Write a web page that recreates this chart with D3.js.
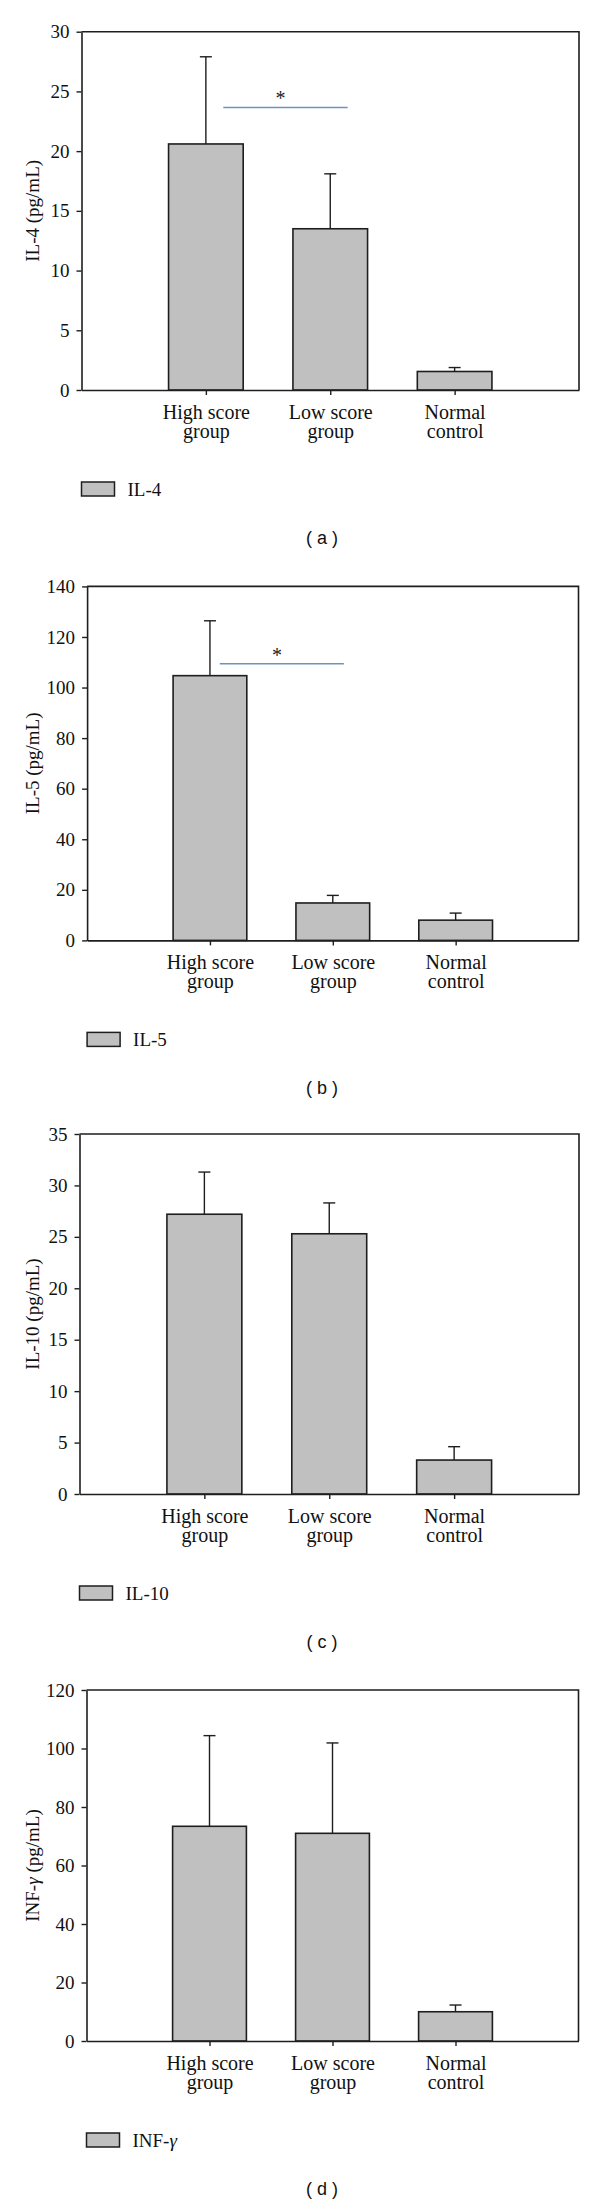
<!DOCTYPE html>
<html>
<head>
<meta charset="utf-8">
<script src="https://cdn.jsdelivr.net/npm/d3@7"></script>
<style>
  body { margin: 0; background: #fff; }
  svg { display: block; }
</style>
</head>
<body>
<script>
// categories (two-line labels) shared by all four panels
const categories = [["High score", "group"], ["Low score", "group"], ["Normal", "control"]];

// means and upper error (SD)
const il4Means = [20.6, 13.5, 1.55];
const il4Errors = [7.3, 4.6, 0.33];
const il5Means = [104.7, 14.8, 8.0];
const il5Errors = [21.7, 3.0, 2.8];
const il10Means = [27.2, 25.3, 3.3];
const il10Errors = [4.1, 3.0, 1.3];
const infMeans = [73.4, 71.0, 10.0];
const infErrors = [31.0, 30.9, 2.3];

// y axis ranges and tick steps
const yMaxes = [30, 140, 35, 120];
const yTickSteps = [5, 20, 5, 20];

// significance bars: [from category pos, to category pos, y value] (null = none)
const sigBars = [[1.14, 2.14, 23.66], [1.08, 2.09, 109.4], null, null];

const labels = ["IL-4", "IL-5", "IL-10", "INF-γ"];
const captions = ["a", "b", "c", "d"];

const W = 600, H = 2203;
const svg = d3.select("body").append("svg").attr("width", W).attr("height", H);

// frame of each panel on the page
const frames = [
  { left: 81.5, top: 31.7, right: 579, bottom: 390 },
  { left: 87.1, top: 586.4, right: 578.5, bottom: 940.4 },
  { left: 79.5, top: 1134, right: 579, bottom: 1494 },
  { left: 86.5, top: 1690, right: 578.5, bottom: 2041 }
];

const allMeans = [il4Means, il5Means, il10Means, infMeans];
const allErrors = [il4Errors, il5Errors, il10Errors, infErrors];

const serif = "'Liberation Serif', 'Times New Roman', serif";
const ink = "#1e1e1e";

// writes "INF-γ" with an italic gamma
function writeLabel(sel, txt) {
  const parts = txt.split("γ");
  sel.append("tspan").text(parts[0]);
  if (parts.length > 1) {
    sel.append("tspan").attr("font-style", "italic").text("γ");
    sel.append("tspan").text(parts[1]);
  }
}

frames.forEach((f, i) => {
  const g = svg.append("g");
  const means = allMeans[i], errs = allErrors[i];

  let x = d3.scaleLinear().domain([0, 4]).range([f.left, f.right]);
  let y = d3.scaleLinear().domain([0, yMaxes[i]]).range([f.bottom, f.top]);
  const step = x(1) - x(0);

  // frame (top + right)
  g.append("path")
    .attr("d", `M${f.left},${f.top}H${f.right}V${f.bottom}`)
    .attr("fill", "none").attr("stroke", ink).attr("stroke-width", 1.6);

  // bars
  const data = means.map((m, k) => ({ pos: k + 1, mean: m, err: errs[k] }));
  g.selectAll("rect.bar").data(data).enter().append("rect")
    .attr("class", "bar")
    .attr("x", d => x(d.pos - 0.3))
    .attr("width", 0.6 * step)
    .attr("y", d => y(d.mean))
    .attr("height", d => y(0) - y(d.mean))
    .attr("fill", "#c0c0c0")
    .attr("stroke", ink)
    .attr("stroke-width", 1.6);

  // error bars (upper only)
  g.selectAll("line.err").data(data).enter().append("line")
    .attr("x1", d => x(d.pos)).attr("x2", d => x(d.pos))
    .attr("y1", d => y(d.mean)).attr("y2", d => y(d.mean + d.err))
    .attr("stroke", ink).attr("stroke-width", 1.4);
  g.selectAll("line.cap").data(data).enter().append("line")
    .attr("x1", d => x(d.pos) - 6).attr("x2", d => x(d.pos) + 6)
    .attr("y1", d => y(d.mean + d.err)).attr("y2", d => y(d.mean + d.err))
    .attr("stroke", ink).attr("stroke-width", 1.4);

  // y axis
  const yAxis = g.append("g")
    .attr("transform", `translate(${f.left},0)`)
    .call(d3.axisLeft(y).tickValues(d3.range(0, yMaxes[i] + 0.001, yTickSteps[i]))
      .tickSize(5).tickPadding(7).tickSizeOuter(0));
  yAxis.select(".domain").attr("stroke", ink).attr("stroke-width", 1.6);
  yAxis.selectAll(".tick line").attr("stroke", ink).attr("stroke-width", 1.4);
  yAxis.selectAll(".tick text")
    .attr("font-family", serif).attr("font-size", 19).attr("fill", "#111");

  // x axis
  const xAxis = g.append("g")
    .attr("transform", `translate(0,${f.bottom})`)
    .call(d3.axisBottom(x).tickValues([1, 2, 3]).tickSize(5).tickSizeOuter(0).tickFormat(""));
  xAxis.select(".domain").attr("stroke", ink).attr("stroke-width", 1.6);
  xAxis.selectAll(".tick line").attr("stroke", ink).attr("stroke-width", 1.4);
  xAxis.selectAll(".tick text").each(function (d) {
    const t = d3.select(this).attr("y", 0).attr("dy", null)
      .attr("font-family", serif).attr("font-size", 20).attr("fill", "#111");
    t.append("tspan").attr("x", 0).attr("y", 29).text(categories[d - 1][0]);
    t.append("tspan").attr("x", 0).attr("y", 48).text(categories[d - 1][1]);
  });

  // y axis title
  const yt = g.append("text")
    .attr("transform", `translate(39,${(f.top + f.bottom) / 2}) rotate(-90)`)
    .attr("text-anchor", "middle")
    .attr("font-family", serif).attr("font-size", 19).attr("fill", "#111");
  writeLabel(yt, labels[i] + " (pg/mL)");

  // significance marker
  const s = sigBars[i];
  if (s) {
    g.append("line")
      .attr("x1", x(s[0])).attr("x2", x(s[1]))
      .attr("y1", y(s[2])).attr("y2", y(s[2]))
      .attr("stroke", "#7193bb").attr("stroke-width", 1.5);
    g.append("text")
      .attr("x", x((s[0] + s[1]) / 2 - 0.04)).attr("y", y(s[2]) - 2)
      .attr("text-anchor", "middle")
      .attr("font-family", serif).attr("font-size", 20).attr("fill", "#222")
      .text("*");
  }

  // legend
  const ly = f.bottom + 92;
  g.append("rect")
    .attr("x", f.left).attr("y", ly).attr("width", 33).attr("height", 14)
    .attr("fill", "#c0c0c0").attr("stroke", ink).attr("stroke-width", 1.5);
  const lt = g.append("text")
    .attr("x", f.left + 46).attr("y", ly + 14)
    .attr("font-family", serif).attr("font-size", 19).attr("fill", "#111");
  writeLabel(lt, labels[i]);

  // caption
  g.append("text")
    .attr("x", 322).attr("y", f.bottom + 154)
    .attr("text-anchor", "middle")
    .attr("font-family", "'Liberation Sans', Arial, sans-serif")
    .attr("font-size", 18).attr("fill", "#111")
    .attr("xml:space", "preserve")
    .text("( " + captions[i] + " )");
});
</script>
</body>
</html>
